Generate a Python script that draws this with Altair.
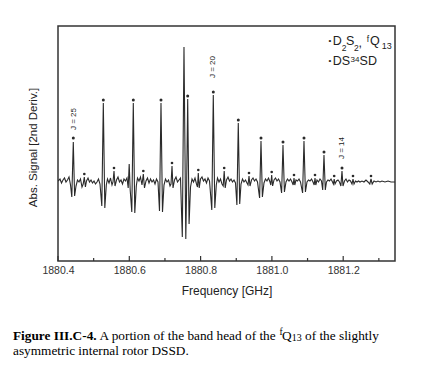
import altair as alt
import pandas as pd

# ---- spectrum trace (frequency in GHz, signal in arbitrary units) ----
FREQ = [
    1880.4000, 1880.4056, 1880.4098, 1880.4140, 1880.4182, 1880.4224, 1880.4266, 1880.4309, 1880.4351, 1880.4387,
    1880.4429, 1880.4466, 1880.4505, 1880.4547, 1880.4589, 1880.4631, 1880.4673, 1880.4707, 1880.4738, 1880.4769,
    1880.4799, 1880.4842, 1880.4884, 1880.4926, 1880.4968, 1880.5010, 1880.5052, 1880.5094, 1880.5136, 1880.5178,
    1880.5229, 1880.5271, 1880.5313, 1880.5355, 1880.5388, 1880.5431, 1880.5473, 1880.5515, 1880.5543, 1880.5571,
    1880.5599, 1880.5641, 1880.5683, 1880.5725, 1880.5767, 1880.5809, 1880.5851, 1880.5893, 1880.5935, 1880.5969,
    1880.5997, 1880.6025, 1880.6070, 1880.6112, 1880.6154, 1880.6196, 1880.6230, 1880.6272, 1880.6314, 1880.6356,
    1880.6393, 1880.6426, 1880.6468, 1880.6510, 1880.6553, 1880.6595, 1880.6637, 1880.6679, 1880.6721, 1880.6763,
    1880.6805, 1880.6847, 1880.6889, 1880.6931, 1880.6973, 1880.7015, 1880.7057, 1880.7100, 1880.7142, 1880.7170,
    1880.7198, 1880.7226, 1880.7268, 1880.7310, 1880.7352, 1880.7394, 1880.7436, 1880.7487, 1880.7534, 1880.7585,
    1880.7607, 1880.7638, 1880.7677, 1880.7717, 1880.7759, 1880.7801, 1880.7843, 1880.7885, 1880.7913, 1880.7935,
    1880.7961, 1880.7997, 1880.8039, 1880.8081, 1880.8123, 1880.8165, 1880.8208, 1880.8250, 1880.8314, 1880.8356,
    1880.8398, 1880.8440, 1880.8474, 1880.8516, 1880.8558, 1880.8600, 1880.8634, 1880.8662, 1880.8690, 1880.8726,
    1880.8769, 1880.8811, 1880.8853, 1880.8895, 1880.8937, 1880.8979, 1880.9018, 1880.9057, 1880.9097, 1880.9133,
    1880.9175, 1880.9217, 1880.9259, 1880.9301, 1880.9330, 1880.9358, 1880.9386, 1880.9428, 1880.9470, 1880.9512,
    1880.9554, 1880.9596, 1880.9655, 1880.9694, 1880.9733, 1880.9778, 1880.9820, 1880.9862, 1880.9905, 1880.9947,
    1880.9969, 1880.9994, 1881.0020, 1881.0059, 1881.0101, 1881.0143, 1881.0185, 1881.0227, 1881.0272, 1881.0311,
    1881.0351, 1881.0395, 1881.0437, 1881.0480, 1881.0522, 1881.0564, 1881.0597, 1881.0620, 1881.0642, 1881.0676,
    1881.0718, 1881.0760, 1881.0802, 1881.0861, 1881.0900, 1881.0940, 1881.0984, 1881.1026, 1881.1069, 1881.1111,
    1881.1153, 1881.1186, 1881.1209, 1881.1231, 1881.1265, 1881.1307, 1881.1349, 1881.1391, 1881.1425, 1881.1461,
    1881.1498, 1881.1531, 1881.1574, 1881.1616, 1881.1658, 1881.1700, 1881.1725, 1881.1747, 1881.1770, 1881.1812,
    1881.1854, 1881.1896, 1881.1935, 1881.1966, 1881.1994, 1881.2036, 1881.2078, 1881.2120, 1881.2163, 1881.2205,
    1881.2247, 1881.2275, 1881.2303, 1881.2345, 1881.2387, 1881.2429, 1881.2471, 1881.2527, 1881.2583, 1881.2639,
    1881.2696, 1881.2746, 1881.2780, 1881.2813, 1881.2864, 1881.2920, 1881.2976, 1881.3032, 1881.3088, 1881.3172,
    1881.3257, 1881.3341, 1881.3453,
]
SIGNAL = [
    1, 3, -1, 2, 4, 0, 2, 5, -3, -15,
    40, -14, -4, 2, 0, 3, -5, -2, 5, -5,
    1, 4, 0, 2, -1, 1, -2, 0, 3, -2,
    -24, 79, -26, -3, 3, -1, 4, -3, 0, 11,
    -4, 2, 5, 0, 2, -2, 3, 1, 4, -6,
    18, -8, -30, 79, -31, -4, 4, 1, 5, -3,
    8, -6, 1, 4, -1, 3, 0, 2, -2, 3,
    0, -29, 79, -30, -3, 3, 0, 2, -4, -2,
    16, -6, 2, 5, 0, 2, 4, -55, 135, -57,
    -8, 83, -42, -5, 3, 0, 4, -2, -5, 9,
    -6, 3, 5, 1, 3, -1, 4, 1, -28, 87,
    -26, -3, 4, 0, 3, -2, -4, 11, -6, 2,
    5, 1, 3, 0, 2, -1, -23, 59, -22, -2,
    3, 0, 2, -1, -3, 6, -4, 2, 4, 1,
    3, 0, -16, 41, -15, -1, 3, 1, 4, 0,
    -3, 7, -4, 2, 4, 1, 3, 0, -11, 37,
    -10, 0, 3, 1, 3, 0, -3, 4, -3, 2,
    1, 3, 0, -11, 41, -10, 0, 2, 1, 3,
    0, -3, 4, -3, 2, 0, 3, 1, -8, 27,
    -8, 0, 2, 1, 3, 0, -2, 3, -2, 1,
    2, 0, -4, 11, -4, 1, 3, 0, 2, 1,
    -2, 3, -2, 1, 0, 1, 0, 1, 0, 2,
    0, -2, 3, -2, 1, 0, 1, 0, 1, 0,
    1, 0, 0,
]

# ---- assignment markers ----
MAIN_FREQ = [1880.4429, 1880.5271, 1880.6112, 1880.6889, 1880.7638, 1880.8356,
             1880.9057, 1880.9694, 1881.0311, 1881.0900, 1881.1461, 1881.1966]
MAIN_MARK = [44, 82, 82, 82, 86, 90, 62, 44, 40, 44, 30, 14]
ISO_FREQ = [1880.4738, 1880.5571, 1880.6393, 1880.7198, 1880.7935, 1880.8662, 1880.9358,
            1880.9994, 1881.0620, 1881.1209, 1881.1747, 1881.2275, 1881.2780]
ISO_MARK = [8, 14, 11, 19, 12, 14, 9, 10, 7, 7, 6, 6, 6]

J_LABELS = ["J = 25", "J = 20", "J = 14"]
J_FREQ = [1880.445, 1880.835, 1881.196]
J_POS = [63, 115, 34]

MAJOR_TICKS = [1880.4, 1880.6, 1880.8, 1881.0, 1881.2]
MINOR_TICKS = [1880.5, 1880.7, 1880.9, 1881.1, 1881.3]

W, H = 337, 235
SANS = "Liberation Sans"
NARROW = "Liberation Sans Narrow, Liberation Sans"
SERIF = "Liberation Serif"
INK = "#2a2a2a"

xs = alt.Scale(domain=[1880.4, 1881.3453], nice=False, zero=False)
ys = alt.Scale(domain=[-79, 156], nice=False, zero=False)

trace_df = pd.DataFrame({"freq": FREQ, "signal": SIGNAL})
main_df = pd.DataFrame({"freq": MAIN_FREQ, "signal": MAIN_MARK})
iso_df = pd.DataFrame({"freq": ISO_FREQ, "signal": ISO_MARK})
j_df = pd.DataFrame({"freq": J_FREQ, "signal": J_POS, "label": J_LABELS})
major_df = pd.DataFrame({"freq": MAJOR_TICKS})
minor_df = pd.DataFrame({"freq": MINOR_TICKS})

x_axis = alt.Axis(
    values=MAJOR_TICKS, format=".1f", ticks=False, tickSize=0, domain=False, grid=False,
    labelFont=NARROW, labelFontSize=10.5, labelColor="#333", labelPadding=4, labelFlush=False,
    title="Frequency [GHz]", titleFont=SANS, titleFontSize=12, titleFontWeight="normal",
    titleColor="#222", titleBaseline="middle", titleY=29,
)
y_axis = alt.Axis(
    labels=False, ticks=False, domain=False, grid=False,
    title="Abs. Signal [2nd Deriv.]", titleFont=SANS, titleFontSize=11.5, titleFontWeight="normal",
    titleColor="#222", titleAngle=270, titleX=-25, titleY=121, titleAlign="center",
    titleBaseline="middle",
)

line = alt.Chart(trace_df).mark_line(color=INK, strokeWidth=1.1, clip=True).encode(
    x=alt.X("freq:Q", scale=xs, axis=x_axis),
    y=alt.Y("signal:Q", scale=ys, axis=y_axis),
    order=alt.Order("freq:Q"),
)
main_pts = alt.Chart(main_df).mark_point(filled=True, shape="circle", size=9, color=INK, opacity=1).encode(
    x=alt.X("freq:Q", scale=xs), y=alt.Y("signal:Q", scale=ys)
)
iso_pts = alt.Chart(iso_df).mark_point(filled=True, shape="circle", size=7, color=INK, opacity=1).encode(
    x=alt.X("freq:Q", scale=xs), y=alt.Y("signal:Q", scale=ys)
)
j_text = alt.Chart(j_df).mark_text(angle=270, align="center", baseline="middle", fontSize=8,
                                   font=SANS, color="#222").encode(
    x=alt.X("freq:Q", scale=xs), y=alt.Y("signal:Q", scale=ys), text="label:N"
)
major_ticks = alt.Chart(major_df).mark_rule(color="#333", strokeWidth=1.2).encode(
    x=alt.X("freq:Q", scale=xs), y=alt.value(H), y2=alt.value(H - 5)
)
minor_ticks = alt.Chart(minor_df).mark_rule(color="#333", strokeWidth=1.2).encode(
    x=alt.X("freq:Q", scale=xs), y=alt.value(H), y2=alt.value(H - 3)
)


def txt(text, x, y, size, font=SANS, weight="normal", color="#222", align="left",
        baseline="alphabetic"):
    return alt.Chart(alt.Data(values=[{}])).mark_text(
        text=text, align=align, baseline=baseline, fontSize=size, font=font,
        fontWeight=weight, color=color,
    ).encode(x=alt.value(x), y=alt.value(y))


legend = [
    txt("\u2022", 272, 15.3, 8, align="center", baseline="middle"),
    txt("D", 274.7, 19.3, 12.5),
    txt("2", 283.7, 24.7, 8.5),
    txt("S", 288, 19.3, 12.5),
    txt("2", 296, 24.7, 8.5),
    txt(",", 300.5, 20.5, 12.5),
    txt("f", 308.7, 15.5, 8.5),
    txt("Q", 312, 19.3, 12.5),
    txt("13", 323.7, 22.7, 9),
    txt("\u2022", 272, 35.3, 8, align="center", baseline="middle"),
    txt("DS", 274.7, 39.3, 12.5),
    txt("34", 292.6, 35.8, 8),
    txt("SD", 301.6, 39.3, 12.5),
]
caption = [
    txt("Figure III.C-4.", -45, 314, 13.3, SERIF, "bold", "#000"),
    txt("A portion of the band head of the", 41.5, 314, 13.3, SERIF, "normal", "#000"),
    txt("f", 221.5, 308.5, 9.5, SERIF, "normal", "#000"),
    txt("Q", 224, 314, 13.3, SERIF, "normal", "#000"),
    txt("13", 233.8, 315, 10, SERIF, "normal", "#000"),
    txt("of the slightly", 247, 314, 13.3, SERIF, "normal", "#000"),
    txt("asymmetric internal rotor DSSD.", -45, 329, 13.3, SERIF, "normal", "#000"),
]

chart = alt.layer(
    line, main_pts, iso_pts, j_text, major_ticks, minor_ticks, *legend, *caption
).properties(
    width=W, height=H,
    padding={"left": 50, "top": 18, "right": 20, "bottom": 110},
    autosize=alt.AutoSizeParams(type="none"),
    background="white",
).configure_view(stroke="#333", strokeWidth=1.5)

chart.save("out.html", embed_options={"renderer": "svg", "actions": False})
